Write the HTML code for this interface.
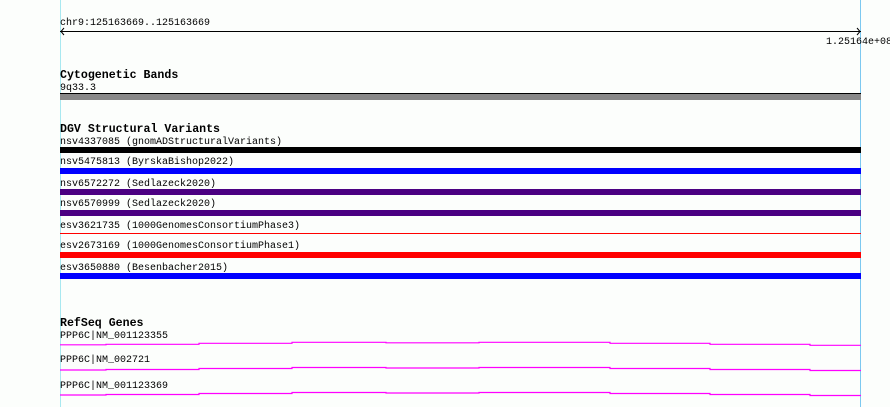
<!DOCTYPE html>
<html><head><meta charset="utf-8"><style>
html,body{margin:0;padding:0;background:#fcfefc;}
svg{display:block;}
text{font-family:"Liberation Mono","DejaVu Sans Mono",monospace;font-size:10px;fill:#000;}
.b{font-weight:bold;font-size:11.6px;}
</style></head><body>
<svg width="890" height="407" viewBox="0 0 890 407" xmlns="http://www.w3.org/2000/svg">
<rect width="890" height="407" fill="#fcfefc"/>
<line x1="60.5" y1="0" x2="60.5" y2="407" stroke="#a8e8f0" stroke-width="1"/>
<line x1="860.5" y1="0" x2="860.5" y2="407" stroke="#7cc8f0" stroke-width="1"/>
<text x="60" y="25">chr9:125163669..125163669</text>
<line x1="60" y1="31.5" x2="861" y2="31.5" stroke="#000" stroke-width="1"/>
<polyline points="64,28 61,31.5 64,35" fill="none" stroke="#000" stroke-width="1"/>
<polyline points="857,28 860,31.5 857,35" fill="none" stroke="#000" stroke-width="1"/>
<text x="826" y="44">1.25164e+08</text>
<text class="b" x="60" y="78">Cytogenetic Bands</text>
<text x="60" y="90">9q33.3</text>
<rect x="60" y="93" width="801" height="7" fill="#888"/>
<line x1="60" y1="93.5" x2="861" y2="93.5" stroke="#000"/>
<text class="b" x="60" y="132">DGV Structural Variants</text>
<text x="60" y="144">nsv4337085 (gnomADStructuralVariants)</text>
<rect x="60" y="147" width="801" height="6" fill="#000"/>
<text x="60" y="164">nsv5475813 (ByrskaBishop2022)</text>
<rect x="60" y="168" width="801" height="6" fill="#0000ff"/>
<text x="60" y="186">nsv6572272 (Sedlazeck2020)</text>
<rect x="60" y="189" width="801" height="6" fill="#4b0082"/>
<text x="60" y="206">nsv6570999 (Sedlazeck2020)</text>
<rect x="60" y="210" width="801" height="6" fill="#4b0082"/>
<text x="60" y="228">esv3621735 (1000GenomesConsortiumPhase3)</text>
<rect x="60" y="233" width="801" height="1" fill="#ff0000"/>
<text x="60" y="248">esv2673169 (1000GenomesConsortiumPhase1)</text>
<rect x="60" y="252" width="801" height="6" fill="#ff0000"/>
<text x="60" y="270">esv3650880 (Besenbacher2015)</text>
<rect x="60" y="273" width="801" height="6" fill="#0000ff"/>
<text class="b" x="60" y="326">RefSeq Genes</text>
<text x="60" y="338">PPP6C|NM_001123355</text>
<text x="60" y="362">PPP6C|NM_002721</text>
<text x="60" y="388">PPP6C|NM_001123369</text>
<g fill="none" stroke="#ff00ff" stroke-width="1.2">
<polyline points="60,344.8 106,344.8 106,344.3 199,344.3 199,343.3 292,343.3 292,342.3 386,342.3 386,342.8 479,342.8 479,342.3 610,342.3 610,343.3 710,343.3 710,344.3 810,344.3 810,345.3 861,345.3"/>
<polyline points="60,370 106,370 106,369.5 199,369.5 199,368.5 292,368.5 292,367.5 386,367.5 386,368 479,368 479,367.5 610,367.5 610,368.5 710,368.5 710,369.5 810,369.5 810,370.5 861,370.5"/>
<polyline points="60,395 106,395 106,394.5 199,394.5 199,393.5 292,393.5 292,392.5 386,392.5 386,393 479,393 479,392.5 610,392.5 610,393.5 710,393.5 710,394.5 810,394.5 810,395.5 861,395.5"/>
</g>
</svg>
</body></html>
